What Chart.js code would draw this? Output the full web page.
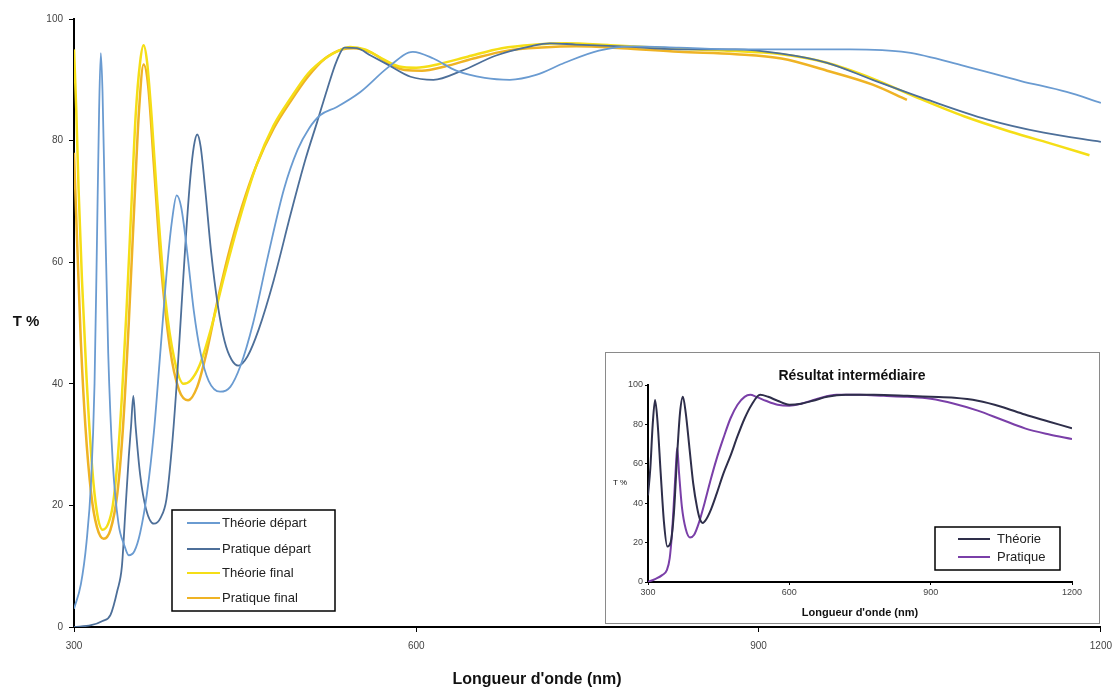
<!DOCTYPE html>
<html>
<head>
<meta charset="utf-8">
<script src="https://cdn.jsdelivr.net/npm/chart.js@4.4.0/dist/chart.umd.min.js"></script>
<style>
body { margin: 0; background: #fff; }
#wrap { position: relative; width: 1120px; height: 691px; }
#main { position: absolute; left: 0; top: 0; }
#insetBox { position: absolute; left: 605px; top: 352px; width: 493px; height: 270px; border: 1px solid #8a8a8a; background: #fff; }
</style>
</head>
<body>
<div id="wrap">
  <canvas id="main" width="1120" height="691"></canvas>
  <div id="insetBox"><canvas id="inset" width="493" height="270"></canvas></div>
</div>
<script>
// wavelengths (nm) and transmission (%)
const tdNm = [300,306,311,315,318,320,322,323.5,325,327,330,334,339,344,348,353,358,364,370,376,382,386,390,394,399,405,411,418,428,437,446,457,470,484,496,506,516,530,551,575,597,615,635,660,682,705,730,760,790,830,880,930,980,1030,1080,1130,1170,1200];
const tdT  = [3,7,14,24,40,62,85,94.4,88,70,45,27,17,13.5,11.8,12.5,15.5,22,32,46,60,67,71,69,62,52,45,40.5,38.7,39.5,43,50,61,72,78.5,82,84.2,85.5,88,92,94.6,93.5,91.5,90.3,90,90.8,92.8,94.8,95.5,95.3,95,95,95,94.5,92.3,89.8,88,86.2];

const pdNm = [300,315,325,332,338,342,345,348,350,352,354,358,363,370,376,381,386,390,394,398,402,405,408,411,415,420,426,432,438,444,452,462,475,490,503,513,522,530,537,548,560,575,595,615,640,670,700,717,740,780,830,880,920,960,1000,1050,1100,1150,1200];
const pdT  = [0,0.3,1,2,6,10,19,28,33,38,33,25,19.5,17,18,21,30,40,52,64,74,79,81,79,72,62,53,47,44,43,44.5,49,57,68,77,83,88.5,93,95.3,95.2,94,92.5,90.5,90,91.5,94,95.5,96,95.8,95.5,95,95,94.3,92.8,90,86.6,83.5,81.3,79.8];

const tfNm = [300,302,304,307,311,316,320,325,330,334,338,342,346,350,354,358,361,364,368,373,380,388,396,402,410,420,432,445,460,475,490,505,520,532,542,555,570,585,600,620,645,675,705,730,770,820,870,920,960,1000,1040,1080,1120,1160,1190];
const tfT  = [95,85,72,57,41,26,19,16,17,20,27,38,52,68,84,93,95.7,93,84,70,54,44,40,40.5,43,49,58,67,76,82.5,87,91,93.5,94.8,95.4,95,93.5,92.2,92,92.6,93.8,95.2,95.8,96,95.7,95.2,94.8,94.2,92.8,90.2,87,84,81.5,79.3,77.6];

const pfNm = [300,303,306,310,315,320,326,332,338,343,348,353,357,361,365,370,376,384,392,400,408,416,425,435,447,460,475,490,505,520,535,545,560,575,590,605,625,650,680,710,740,780,830,880,920,960,1000,1030];
const pfT  = [78,62,47,33,22,16.5,14.5,16,22,33,50,70,85,92.5,89,76,60,46,39,37.3,39.5,45,53,61,69,76,82,86.5,90.5,93.5,95,95.2,94.5,92.8,91.6,91.5,92.2,93.5,94.8,95.3,95.5,95.2,94.6,94.2,93.5,91.5,89.2,86.7];

// inset "Résultat intermédiaire"
const thNm = [300,305,310,315,320,327,334,341,348,355,362,368,374,380,388,396,404,410,416,424,434,446,460,475,490,505,520,538,555,575,600,625,650,680,720,780,850,900,950,1000,1050,1100,1150,1200];
const thT  = [44,58,80,92.4,82,55,30,18,20,35,65,86,94,86,68,50,38,32,30,32,37,45,55,64,74,83,90,95,94,92,90,90.5,92,94,95,95,94.5,94,93.5,92,89,85,81.5,78];

const prNm = [300,315,330,340,346,351,356,360,362,366,372,380,389,398,408,420,432,445,460,475,490,505,517,530,550,575,600,625,660,700,750,800,850,900,950,1000,1050,1100,1150,1200];
const prT  = [0,1.5,3.5,6,12,25,45,62,68,55,38,27,22.6,24,30,40,51,62,73,83,90,94,95,94,92,90,89.5,90.5,93,95,95,94.5,94,93,90.5,87,82.5,78,75,72.6];

function pts(xs, ys) {
    return xs.map(function (x, i) { return { x: x, y: ys[i] }; });
}

// draws free texts and a boxed legend at fixed spots
const decor = {
    id: 'decor',
    afterDraw(chart, args, opts) {
        const ctx = chart.ctx;
        ctx.save();
        (opts.texts || []).forEach(function (t) {
            ctx.font = t.font;
            ctx.fillStyle = t.color || '#111';
            ctx.textAlign = 'center';
            ctx.textBaseline = 'middle';
            ctx.fillText(t.text, t.x, t.y);
        });
        const lg = opts.legend;
        if (lg) {
            ctx.fillStyle = '#fff';
            ctx.fillRect(lg.x, lg.y, lg.w, lg.h);
            ctx.strokeStyle = '#000';
            ctx.lineWidth = lg.border;
            ctx.strokeRect(lg.x, lg.y, lg.w, lg.h);
            ctx.font = lg.font;
            ctx.textAlign = 'left';
            ctx.textBaseline = 'middle';
            chart.data.datasets.forEach(function (ds, i) {
                const y = lg.rows[i];
                ctx.strokeStyle = ds.borderColor;
                ctx.lineWidth = lg.lineWidth;
                ctx.beginPath();
                ctx.moveTo(lg.x1, y);
                ctx.lineTo(lg.x2, y);
                ctx.stroke();
                ctx.fillStyle = '#222';
                ctx.fillText(ds.label, lg.tx, y);
            });
        }
        ctx.restore();
    }
};

function axis(min, max, step, fontSize, tickLen, pad, fit) {
    return {
        type: 'linear',
        min: min,
        max: max,
        ticks: {
            stepSize: step,
            color: '#444',
            padding: pad,
            font: { family: 'Liberation Sans', size: fontSize },
            callback: function (v) { return String(v); }
        },
        grid: { display: true, drawOnChartArea: false, drawTicks: true, tickLength: tickLen, color: '#000' },
        border: { display: true, color: '#000', width: 2 },
        afterFit: fit
    };
}

function line(label, xs, ys, colour, w) {
    return {
        label: label,
        data: pts(xs, ys),
        borderColor: colour,
        borderWidth: w,
        pointRadius: 0,
        fill: false,
        cubicInterpolationMode: 'monotone'
    };
}

new Chart(document.getElementById('main'), {
    type: 'line',
    data: {
        datasets: [
            line('Théorie départ', tdNm, tdT, '#6a9bd1', 1.8),
            line('Pratique départ', pdNm, pdT, '#4d6f99', 1.8),
            line('Théorie final', tfNm, tfT, '#f5de16', 2.5),
            line('Pratique final', pfNm, pfT, '#efb324', 2.5)
        ]
    },
    options: {
        responsive: false,
        animation: false,
        layout: { padding: { left: 0, top: 19, right: 19, bottom: 0 } },
        scales: {
            x: axis(300, 1200, 300, 10, 5, 8, function (s) { s.height = 64; }),
            y: axis(0, 100, 20, 10, 5, 6, function (s) { s.width = 74; })
        },
        plugins: {
            legend: { display: false },
            tooltip: { enabled: false },
            decor: {
                texts: [
                    { text: 'T %', x: 26, y: 322, font: 'bold 15px "Liberation Sans"' },
                    { text: "Longueur d'onde (nm)", x: 537, y: 680, font: 'bold 16px "Liberation Sans"' }
                ],
                legend: {
                    x: 172, y: 510, w: 163, h: 101, border: 1.5,
                    rows: [523, 549, 573, 598],
                    x1: 187, x2: 220, tx: 222, lineWidth: 2,
                    font: '13px "Liberation Sans"'
                }
            }
        }
    },
    plugins: [decor]
});

new Chart(document.getElementById('inset'), {
    type: 'line',
    data: {
        datasets: [
            line('Théorie', thNm, thT, '#2e2e4a', 2),
            line('Pratique', prNm, prT, '#7a3fa8', 2)
        ]
    },
    options: {
        responsive: false,
        animation: false,
        layout: { padding: { left: 0, top: 32, right: 27, bottom: 0 } },
        scales: {
            x: axis(300, 1200, 300, 9, 3, 2, function (s) { s.height = 41; }),
            y: axis(0, 100, 20, 9, 3, 2, function (s) { s.width = 42; })
        },
        plugins: {
            legend: { display: false },
            tooltip: { enabled: false },
            decor: {
                texts: [
                    { text: 'Résultat intermédiaire', x: 246, y: 23, font: 'bold 14px "Liberation Sans"' },
                    { text: "Longueur d'onde (nm)", x: 254, y: 260, font: 'bold 11px "Liberation Sans"' },
                    { text: 'T %', x: 14, y: 130, font: '8px "Liberation Sans"' }
                ],
                legend: {
                    x: 329, y: 174, w: 125, h: 43, border: 1.5,
                    rows: [186, 204],
                    x1: 352, x2: 384, tx: 391, lineWidth: 2,
                    font: '13px "Liberation Sans"'
                }
            }
        }
    },
    plugins: [decor]
});
</script>
</body>
</html>
